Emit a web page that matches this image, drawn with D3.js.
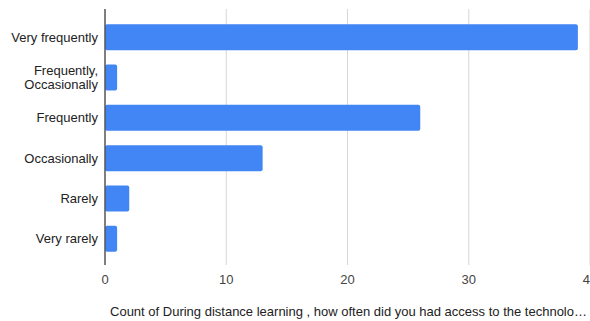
<!DOCTYPE html>
<html>
<head>
    <meta charset="utf-8">
    <script src="https://d3js.org/d3.v7.min.js"></script>
    <style>
        body { margin: 0; background: #fff; }
        text { font-family: Arial, "Liberation Sans", sans-serif; }
    </style>
</head>
<body>
    <svg id="chart"></svg>
    <script>
        // datos
        var categories = ["Very frequently", "Frequently, Occasionally", "Frequently", "Occasionally", "Rarely", "Very rarely"];
        var counts = [39, 1, 26, 13, 2, 1];
        var xTicks = [0, 10, 20, 30, 40];
        var axisTitle = "Count of During distance learning , how often did you had access to the technolo\u2026";

        var data = categories.map(function(c, i) { return { cat: c, value: counts[i] }; });

        var width = 590, height = 321;
        var plotLeft = 105, plotRight = 590, plotTop = 9, plotBottom = 265;

        var svg = d3.select("#chart")
            .attr("width", width)
            .attr("height", height);

        var x = d3.scaleLinear()
            .domain([0, 40])
            .range([plotLeft, plotLeft + 485]);

        var y = d3.scaleBand()
            .domain(categories)
            .range([17, 259])
            .paddingInner(0.355)
            .paddingOuter(0.18);

        // lineas de la grilla
        svg.append("g")
            .selectAll("line")
            .data(xTicks.filter(function(t) { return t > 0; }))
            .enter().append("line")
            .attr("x1", d => x(d)).attr("x2", d => x(d))
            .attr("y1", plotTop).attr("y2", plotBottom)
            .attr("stroke", "#d6d6d6")
            .attr("stroke-width", 1);

        // barras
        svg.append("g")
            .selectAll("rect")
            .data(data)
            .enter().append("rect")
            .attr("x", x(0))
            .attr("y", d => y(d.cat))
            .attr("width", d => x(d.value) - x(0))
            .attr("height", y.bandwidth())
            .attr("rx", 2)
            .attr("fill", "#4285f4");

        // eje cero
        svg.append("line")
            .attr("x1", x(0)).attr("x2", x(0))
            .attr("y1", plotTop).attr("y2", plotBottom)
            .attr("stroke", "#555")
            .attr("stroke-width", 1.5);

        // etiquetas del eje X
        svg.append("g")
            .selectAll("text")
            .data(xTicks)
            .enter().append("text")
            .attr("x", d => x(d))
            .attr("y", 283.5)
            .attr("text-anchor", "middle")
            .attr("font-size", 13)
            .attr("fill", "#444")
            .text(d => d);

        // etiquetas del eje Y
        var labels = svg.append("g")
            .selectAll("text")
            .data(categories)
            .enter().append("text")
            .attr("text-anchor", "end")
            .attr("font-size", 13)
            .attr("fill", "#222");

        labels.each(function(d) {
            var parts = d.indexOf(", ") > 0 ? [d.split(", ")[0] + ",", d.split(", ")[1]] : [d];
            var cy = y(d) + y.bandwidth() / 2;
            var lh = 13.5;
            var start = cy - (parts.length - 1) * lh / 2;
            d3.select(this).selectAll("tspan")
                .data(parts)
                .enter().append("tspan")
                .attr("x", 98)
                .attr("y", (p, i) => start + i * lh + 4.5)
                .text(p => p);
        });

        // titulo del eje
        svg.append("text")
            .attr("x", (plotLeft + plotRight) / 2 + 1)
            .attr("y", 316)
            .attr("text-anchor", "middle")
            .attr("font-size", 13)
            .attr("fill", "#222")
            .text(axisTitle);
    </script>
</body>
</html>
